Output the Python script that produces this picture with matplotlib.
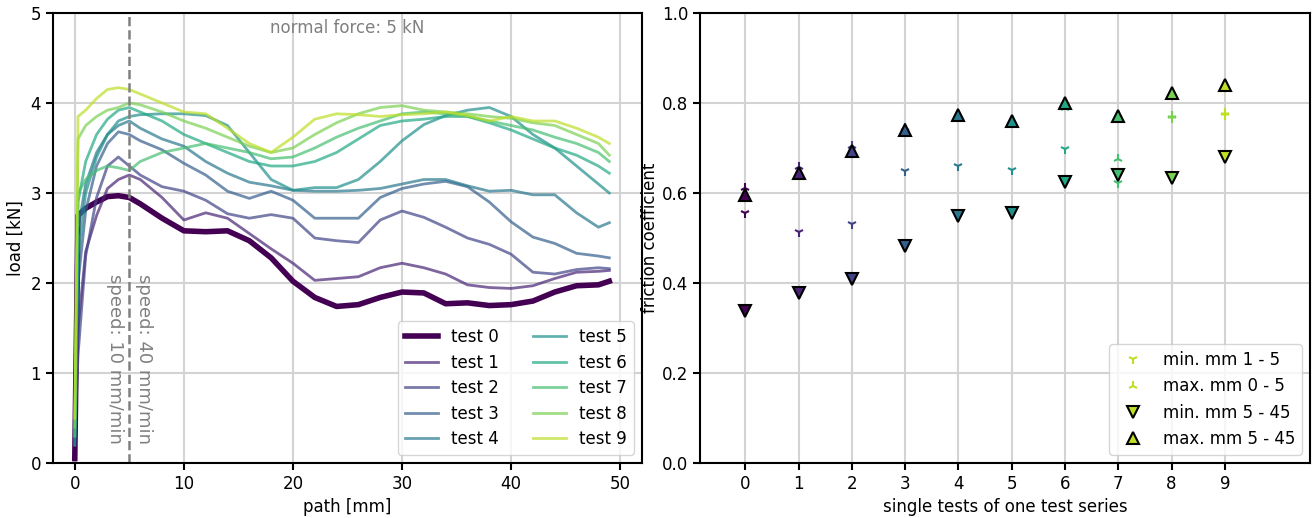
import numpy as np
import matplotlib
matplotlib.use("Agg")
import matplotlib.pyplot as plt

# load curves (path in mm, load in kN)
path = [0, 0.3, 1, 2, 3, 4, 5, 6, 8, 10, 12, 14, 16, 18, 20, 22, 24, 26, 28, 30,
        32, 34, 36, 38, 40, 42, 44, 46, 48, 49]

test0 = [0.05, 2.75, 2.83, 2.9, 2.96, 2.97, 2.95, 2.88, 2.72, 2.58,
         2.57, 2.58, 2.47, 2.28, 2.02, 1.84, 1.74, 1.76, 1.84, 1.9,
         1.89, 1.77, 1.78, 1.75, 1.76, 1.8, 1.9, 1.97, 1.98, 2.02]
test1 = [0.2, 1.5, 2.35, 2.75, 3.05, 3.15, 3.2, 3.15, 2.95, 2.7,
         2.78, 2.72, 2.55, 2.38, 2.22, 2.03, 2.05, 2.07, 2.17, 2.22,
         2.17, 2.1, 1.98, 1.95, 1.94, 1.97, 2.05, 2.12, 2.13, 2.14]
test2 = [0.3, 1.2, 2.3, 2.95, 3.3, 3.4, 3.3, 3.2, 3.07, 3.02,
         2.92, 2.77, 2.72, 2.76, 2.72, 2.5, 2.47, 2.45, 2.7, 2.8,
         2.73, 2.62, 2.5, 2.43, 2.32, 2.12, 2.1, 2.15, 2.17, 2.16]
test3 = [0.2, 2.0, 2.8, 3.3, 3.55, 3.68, 3.65, 3.58, 3.48, 3.33,
         3.2, 3.02, 2.94, 3.02, 2.92, 2.72, 2.72, 2.72, 2.95, 3.05,
         3.1, 3.13, 3.07, 2.9, 2.68, 2.51, 2.44, 2.33, 2.3, 2.28]
test4 = [0.3, 2.6, 3.1, 3.45, 3.65, 3.75, 3.8, 3.72, 3.6, 3.52,
         3.35, 3.22, 3.12, 3.08, 3.03, 3.02, 3.02, 3.03, 3.05, 3.1,
         3.15, 3.15, 3.08, 3.02, 3.03, 2.98, 2.98, 2.78, 2.62, 2.67]
test5 = [0.2, 2.3, 3.0, 3.4, 3.65, 3.8, 3.85, 3.87, 3.88, 3.88,
         3.86, 3.75, 3.45, 3.15, 3.03, 3.06, 3.06, 3.15, 3.35, 3.58,
         3.76, 3.86, 3.92, 3.95, 3.85, 3.65, 3.5, 3.3, 3.1, 3.0]
test6 = [0.3, 2.9, 3.35, 3.65, 3.82, 3.92, 3.95, 3.9, 3.8, 3.65,
         3.55, 3.45, 3.35, 3.3, 3.3, 3.35, 3.45, 3.6, 3.75, 3.8,
         3.82, 3.85, 3.85, 3.78, 3.7, 3.6, 3.5, 3.42, 3.3, 3.22]
test7 = [0.3, 3.0, 3.15, 3.25, 3.3, 3.28, 3.25, 3.35, 3.45, 3.5,
         3.55, 3.5, 3.45, 3.38, 3.4, 3.5, 3.62, 3.72, 3.8, 3.88,
         3.9, 3.88, 3.85, 3.8, 3.75, 3.7, 3.62, 3.55, 3.45, 3.35]
test8 = [0.4, 3.6, 3.75, 3.85, 3.92, 3.95, 4.0, 3.98, 3.9, 3.8,
         3.72, 3.62, 3.52, 3.45, 3.5, 3.65, 3.78, 3.88, 3.95, 3.97,
         3.92, 3.9, 3.88, 3.85, 3.83, 3.78, 3.75, 3.65, 3.55, 3.42]
test9 = [0.5, 3.85, 3.92, 4.05, 4.15, 4.17, 4.15, 4.1, 4.0, 3.9,
         3.88, 3.72, 3.55, 3.45, 3.62, 3.82, 3.88, 3.87, 3.85, 3.87,
         3.88, 3.9, 3.86, 3.8, 3.85, 3.8, 3.8, 3.72, 3.62, 3.55]
loads = [test0, test1, test2, test3, test4, test5, test6, test7, test8, test9]

# friction coefficients per single test
tests = list(range(10))
min_1_5 = [0.556, 0.513, 0.532, 0.648, 0.659, 0.652, 0.698, 0.622, 0.767, 0.774]
max_0_5 = [0.611, 0.658, 0.705, 0.744, 0.774, 0.759, 0.789, 0.676, 0.770, 0.778]
min_5_45 = [0.337, 0.378, 0.409, 0.483, 0.548, 0.556, 0.624, 0.639, 0.633, 0.681]
max_5_45 = [0.596, 0.644, 0.693, 0.741, 0.774, 0.759, 0.801, 0.772, 0.822, 0.841]

colors = [plt.cm.viridis(i / 10) for i in range(10)]
plt.rcParams["font.size"] = 12

fig = plt.figure(figsize=(13.14, 5.18), dpi=100)
ax1 = fig.add_axes([0.0403, 0.106, 0.4483, 0.869])
ax2 = fig.add_axes([0.5327, 0.106, 0.4643, 0.869])

for ax in (ax1, ax2):
    ax.grid(True, color="#d3d3d3", lw=1.5)
    ax.set_axisbelow(True)
    for s in ax.spines.values():
        s.set_linewidth(1.5)
    ax.tick_params(width=1.5, length=5, labelsize=12)

# left: load over path
for i, ld in enumerate(loads):
    if i == 0:
        ax1.plot(path, ld, color=colors[i], lw=4, label=f"test {i}")
    else:
        ax1.plot(path, ld, color=colors[i], lw=2, alpha=0.7, label=f"test {i}")

ax1.axvline(5, color="grey", ls="--", lw=1.8)
ax1.text(5.5, 2.1, "speed: 40 mm/min", rotation=-90, color="grey",
         ha="left", va="top", fontsize=13)
ax1.text(4.5, 2.1, "speed: 10 mm/min", rotation=-90, color="grey",
         ha="right", va="top", fontsize=13)
ax1.text(25, 4.93, "normal force: 5 kN", color="grey", ha="center",
         va="top", fontsize=12)
ax1.set_xlim(-2, 52)
ax1.set_ylim(0, 5)
ax1.set_xlabel("path [mm]")
ax1.set_ylabel("load [kN]")
ax1.legend(ncol=2, loc="lower right", fontsize=12, labelspacing=0.45)

# right: friction coefficients
for i in tests:
    ax2.plot(tests[i], min_1_5[i], marker="1", ls="none", color=colors[i], ms=7, mew=1.5)
    ax2.plot(tests[i], max_0_5[i], marker="2", ls="none", color=colors[i], ms=7, mew=1.5)
    ax2.plot(tests[i], min_5_45[i], marker="v", ls="none", color=colors[i],
             mec="black", ms=8, mew=1.5)
    ax2.plot(tests[i], max_5_45[i], marker="^", ls="none", color=colors[i],
             mec="black", ms=8, mew=1.5)

c = colors[9]
h1, = ax2.plot([], [], marker="1", ls="none", color=c, ms=7, mew=1.5)
h2, = ax2.plot([], [], marker="2", ls="none", color=c, ms=7, mew=1.5)
h3, = ax2.plot([], [], marker="v", ls="none", color=c, mec="black", ms=8, mew=1.5)
h4, = ax2.plot([], [], marker="^", ls="none", color=c, mec="black", ms=8, mew=1.5)
ax2.legend([h1, h2, h3, h4],
           ["min. mm 1 - 5", "max. mm 0 - 5", "min. mm 5 - 45", "max. mm 5 - 45"],
           loc="lower right", fontsize=12)

ax2.set_xticks(tests)
ax2.set_xlim(-0.85, 10.6)
ax2.set_ylim(0, 1.0)
ax2.set_yticks(np.arange(0, 1.01, 0.2))
ax2.set_xlabel("single tests of one test series")
ax2.set_ylabel("friction coefficient", labelpad=2)

fig.savefig("out.png", dpi=100)
